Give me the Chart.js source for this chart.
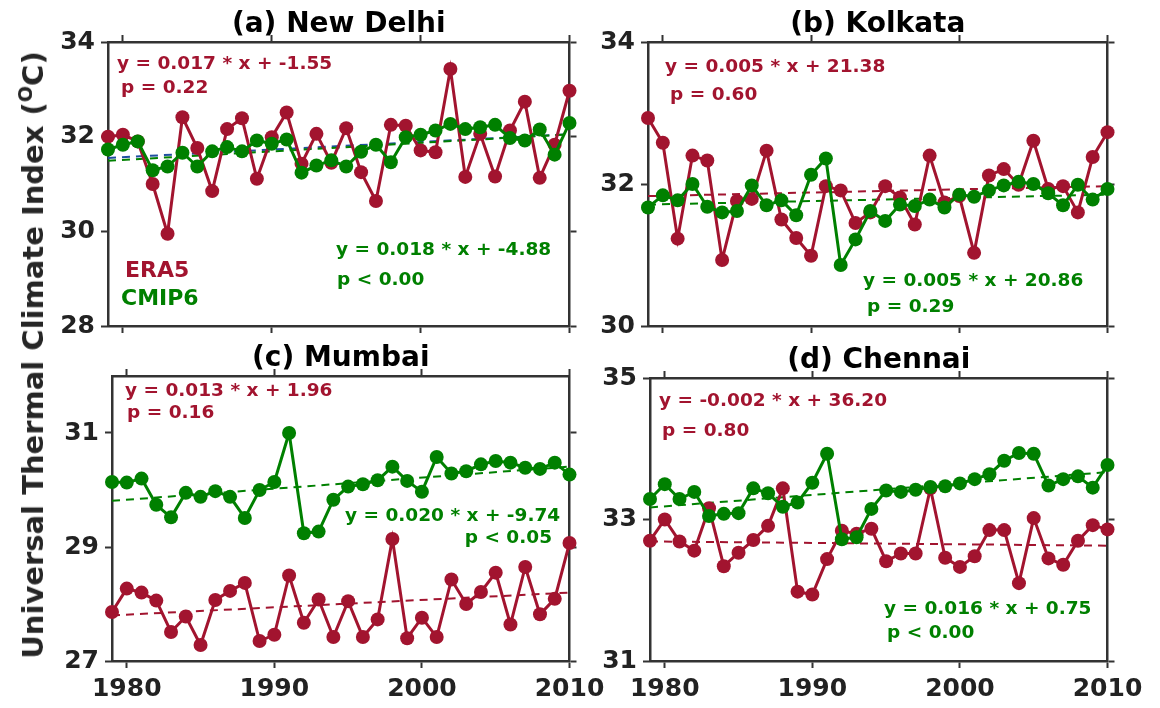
<!DOCTYPE html>
<html>
<head>
<meta charset="utf-8">
<script src="https://cdn.jsdelivr.net/npm/chart.js@4.4.1/dist/chart.umd.min.js"></script>
<style>
  html, body { margin: 0; padding: 0; background: #fff; }
  #wrap { position: relative; width: 1160px; height: 708px; overflow: hidden; }
  canvas { position: absolute; }
  #ytitle {
    position: absolute; left: 33px; top: 355px;
    transform: translate(-50%, -50%) rotate(-90deg);
    white-space: nowrap; font: bold 29px 'DejaVu Sans'; color: #262626;
  }
  #ytitle sup { font-size: 0.66em; vertical-align: 0.6em; line-height: 0; }
</style>
</head>
<body>
<div id="wrap">
  <canvas id="pa" width="620" height="354" style="left:0;top:0"></canvas>
  <canvas id="pb" width="580" height="354" style="left:580px;top:0"></canvas>
  <canvas id="pc" width="620" height="378" style="left:0;top:330px"></canvas>
  <canvas id="pd" width="580" height="378" style="left:580px;top:330px"></canvas>
  <div id="ytitle">Universal Thermal Climate Index (<sup>O</sup>C)</div>
</div>
<script>
'use strict';

const YEARS = [1979, 1980, 1981, 1982, 1983, 1984, 1985, 1986, 1987, 1988, 1989, 1990,
  1991, 1992, 1993, 1994, 1995, 1996, 1997, 1998, 1999, 2000, 2001, 2002, 2003, 2004,
  2005, 2006, 2007, 2008, 2009, 2010];
const X_TICKS = [1980, 1990, 2000, 2010];

// (a) New Delhi
const DELHI_ERA5 = [32.0, 32.04, 31.9, 31.0, 29.95, 32.41, 31.76, 30.85, 32.16, 32.39, 31.11, 31.99,
  32.51, 31.43, 32.06, 31.45, 32.18, 31.25, 30.64, 32.25, 32.23, 31.71, 31.67, 33.43, 31.15, 32.06,
  31.16, 32.13, 32.74, 31.13, 31.83, 32.97];
const DELHI_CMIP6 = [31.73, 31.83, 31.9, 31.29, 31.37, 31.66, 31.37, 31.69, 31.78, 31.69, 31.92, 31.85,
  31.94, 31.24, 31.39, 31.5, 31.37, 31.68, 31.83, 31.46, 31.99, 32.04, 32.13, 32.27, 32.16, 32.2,
  32.25, 31.97, 31.92, 32.15, 31.62, 32.29];
const DELHI_ERA5_TREND = [31.55, 32.05];
const DELHI_CMIP6_TREND = [31.49, 32.05];
const DELHI_Y_TICKS = [28, 30, 32, 34];

// (b) Kolkata
const KOLKATA_ERA5 = [32.93, 32.58, 31.23, 32.4, 32.33, 30.93, 31.76, 31.79, 32.47, 31.5, 31.24, 30.99,
  31.97, 31.91, 31.45, 31.6, 31.97, 31.81, 31.43, 32.4, 31.74, 31.83, 31.03, 32.12, 32.21, 31.99,
  32.61, 31.93, 31.97, 31.6, 32.38, 32.73];
const KOLKATA_CMIP6 = [31.67, 31.84, 31.77, 32.0, 31.68, 31.6, 31.62, 31.98, 31.7, 31.77, 31.56, 32.13,
  32.36, 30.86, 31.22, 31.62, 31.48, 31.71, 31.69, 31.78, 31.67, 31.85, 31.82, 31.91, 31.98, 32.03,
  32.0, 31.87, 31.7, 31.99, 31.78, 31.93];
const KOLKATA_ERA5_TREND = [31.83, 31.97];
const KOLKATA_CMIP6_TREND = [31.71, 31.85];
const KOLKATA_Y_TICKS = [30, 32, 34];

// (c) Mumbai
const MUMBAI_ERA5 = [27.86, 28.27, 28.2, 28.06, 27.51, 27.78, 27.28, 28.07, 28.23, 28.37, 27.35, 27.46,
  28.5, 27.67, 28.08, 27.42, 28.05, 27.42, 27.73, 29.14, 27.4, 27.76, 27.42, 28.43, 28.0, 28.21,
  28.55, 27.64, 28.65, 27.82, 28.09, 29.07];
const MUMBAI_CMIP6 = [30.14, 30.13, 30.2, 29.74, 29.52, 29.95, 29.88, 29.98, 29.88, 29.51, 30.0, 30.14,
  31.0, 29.24, 29.27, 29.83, 30.06, 30.1, 30.17, 30.41, 30.16, 29.97, 30.58, 30.29, 30.33, 30.45,
  30.51, 30.48, 30.39, 30.37, 30.48, 30.27];
const MUMBAI_ERA5_TREND = [27.8, 28.2];
const MUMBAI_CMIP6_TREND = [29.81, 30.41];
const MUMBAI_Y_TICKS = [27, 29, 31];

// (d) Chennai
const CHENNAI_ERA5 = [32.7, 33.0, 32.69, 32.56, 33.16, 32.34, 32.53, 32.71, 32.91, 33.44, 31.98, 31.94,
  32.44, 32.84, 32.8, 32.87, 32.41, 32.52, 32.52, 33.44, 32.46, 32.33, 32.48, 32.85, 32.85, 32.1,
  33.02, 32.45, 32.36, 32.7, 32.92, 32.86];
const CHENNAI_CMIP6 = [33.29, 33.5, 33.29, 33.39, 33.05, 33.08, 33.09, 33.44, 33.37, 33.18, 33.24, 33.52,
  33.93, 32.72, 32.75, 33.15, 33.41, 33.39, 33.42, 33.46, 33.47, 33.51, 33.57, 33.64, 33.83, 33.94,
  33.93, 33.48, 33.57, 33.61, 33.45, 33.77];
const CHENNAI_ERA5_TREND = [32.69, 32.63];
const CHENNAI_CMIP6_TREND = [33.17, 33.67];
const CHENNAI_Y_TICKS = [31, 33, 35];

const RED = '#A2142F';
const GREEN = '#008000';
const BLUE = '#1f4fa0';
const AXIS = '#333333';
const FONT = "'DejaVu Sans'";

// draws the panel title and the regression notes
const textPlugin = {
  id: 'panelText',
  afterDraw (chart, args, opts) {
    const ctx = chart.ctx;
    const area = chart.chartArea;
    ctx.save();
    ctx.fillStyle = '#000';
    ctx.font = 'bold 28px ' + FONT;
    ctx.textAlign = 'center';
    ctx.textBaseline = 'alphabetic';
    ctx.fillText(opts.title, (area.left + area.right) / 2, area.top - 10);
    opts.notes.forEach(n => {
      ctx.fillStyle = n.color;
      ctx.font = 'bold ' + (n.size || 18.5) + 'px ' + FONT;
      ctx.textAlign = n.align || 'left';
      ctx.fillText(n.text, n.x - opts.offset[0], n.y - opts.offset[1]);
    });
    ctx.restore();
  }
};

function series (vals, color, order) {
  return {
    data: YEARS.map((yr, i) => ({ x: yr, y: vals[i] })),
    borderColor: color, backgroundColor: color, borderWidth: 3,
    pointRadius: 7, pointHoverRadius: 7, pointBorderWidth: 0,
    pointBackgroundColor: color, clip: false, order: order
  };
}

function trend (ends, color, order) {
  return {
    data: [{ x: YEARS[0], y: ends[0] }, { x: YEARS[YEARS.length - 1], y: ends[1] }],
    borderColor: color, borderWidth: 2, borderDash: [8, 6],
    pointRadius: 0, clip: false, order: order
  };
}

function fixed (prop, size) {
  return function (s) {
    s[prop] = size;
    s.paddingLeft = 0; s.paddingRight = 0; s.paddingTop = 0; s.paddingBottom = 0;
  };
}

function axisBase () {
  return {
    grid: { drawOnChartArea: false, drawTicks: true, tickLength: 7, tickWidth: 2, tickColor: AXIS },
    border: { display: true, color: AXIS, width: 2.5 }
  };
}

function makePanel (id, p) {
  const tickFont = { family: FONT, size: 25, weight: 'bold' };
  new Chart(document.getElementById(id).getContext('2d'), {
    type: 'line',
    data: {
      datasets: [
        series(p.cmip6, GREEN, 0),
        series(p.era5, RED, 1),
        trend(p.cmip6Trend, GREEN, 2),
        trend(p.era5Trend, p.era5TrendColor || RED, 3)
      ]
    },
    options: {
      responsive: false,
      animation: false,
      events: [],
      layout: { padding: 0 },
      plugins: {
        legend: { display: false },
        tooltip: { enabled: false },
        panelText: { title: p.title, notes: p.notes, offset: p.offset }
      },
      scales: {
        x: Object.assign(axisBase(), {
          type: 'linear', position: 'bottom', min: 1979, max: 2010,
          afterBuildTicks: s => { s.ticks = X_TICKS.map(v => ({ value: v })); },
          afterFit: fixed('height', p.box[3]),
          ticks: {
            display: p.xLabels, font: tickFont, color: '#222', padding: 6,
            maxRotation: 0, autoSkip: false, callback: v => String(v)
          }
        }),
        x2: Object.assign(axisBase(), {
          type: 'linear', position: 'top', min: 1979, max: 2010,
          afterBuildTicks: s => { s.ticks = X_TICKS.map(v => ({ value: v })); },
          afterFit: fixed('height', p.box[1]),
          ticks: { display: false }
        }),
        y: Object.assign(axisBase(), {
          type: 'linear', position: 'left', min: p.yTicks[0], max: p.yMax,
          afterBuildTicks: s => { s.ticks = p.yTicks.map(v => ({ value: v })); },
          afterFit: fixed('width', p.box[0]),
          ticks: { font: tickFont, color: '#222', padding: 6, callback: v => String(v) }
        }),
        y2: Object.assign(axisBase(), {
          type: 'linear', position: 'right', min: p.yTicks[0], max: p.yMax,
          afterBuildTicks: s => { s.ticks = p.yTicks.map(v => ({ value: v })); },
          afterFit: fixed('width', p.box[2]),
          ticks: { display: false }
        })
      }
    },
    plugins: [textPlugin]
  });
}

makePanel('pa', {
  title: '(a) New Delhi', offset: [0, 0], box: [108, 42, 50.5, 28], xLabels: false,
  era5: DELHI_ERA5, cmip6: DELHI_CMIP6, era5Trend: DELHI_ERA5_TREND, cmip6Trend: DELHI_CMIP6_TREND,
  era5TrendColor: BLUE, yTicks: DELHI_Y_TICKS, yMax: 34,
  notes: [
    { text: 'y = 0.017 * x + -1.55', color: RED, x: 117, y: 69 },
    { text: 'p = 0.22', color: RED, x: 121, y: 93 },
    { text: 'ERA5', color: RED, x: 125, y: 277, size: 22 },
    { text: 'CMIP6', color: GREEN, x: 121, y: 305, size: 22 },
    { text: 'y = 0.018 * x + -4.88', color: GREEN, x: 336, y: 255 },
    { text: 'p < 0.00', color: GREEN, x: 337, y: 285 }
  ]
});

makePanel('pb', {
  title: '(b) Kolkata', offset: [580, 0], box: [68, 42, 52.5, 28], xLabels: false,
  era5: KOLKATA_ERA5, cmip6: KOLKATA_CMIP6, era5Trend: KOLKATA_ERA5_TREND, cmip6Trend: KOLKATA_CMIP6_TREND,
  yTicks: KOLKATA_Y_TICKS, yMax: 34,
  notes: [
    { text: 'y = 0.005 * x + 21.38', color: RED, x: 665, y: 72 },
    { text: 'p = 0.60', color: RED, x: 670, y: 100 },
    { text: 'y = 0.005 * x + 20.86', color: GREEN, x: 863, y: 286 },
    { text: 'p = 0.29', color: GREEN, x: 867, y: 312 }
  ]
});

makePanel('pc', {
  title: '(c) Mumbai', offset: [0, 330], box: [112, 46, 50.5, 47], xLabels: true,
  era5: MUMBAI_ERA5, cmip6: MUMBAI_CMIP6, era5Trend: MUMBAI_ERA5_TREND, cmip6Trend: MUMBAI_CMIP6_TREND,
  yTicks: MUMBAI_Y_TICKS, yMax: 32,
  notes: [
    { text: 'y = 0.013 * x + 1.96', color: RED, x: 125, y: 396 },
    { text: 'p = 0.16', color: RED, x: 127, y: 418 },
    { text: 'y = 0.020 * x + -9.74', color: GREEN, x: 345, y: 521 },
    { text: 'p < 0.05', color: GREEN, x: 552, y: 543, align: 'right' }
  ]
});

makePanel('pd', {
  title: '(d) Chennai', offset: [580, 330], box: [70, 48, 52.5, 47], xLabels: true,
  era5: CHENNAI_ERA5, cmip6: CHENNAI_CMIP6, era5Trend: CHENNAI_ERA5_TREND, cmip6Trend: CHENNAI_CMIP6_TREND,
  yTicks: CHENNAI_Y_TICKS, yMax: 35,
  notes: [
    { text: 'y = -0.002 * x + 36.20', color: RED, x: 659, y: 406 },
    { text: 'p = 0.80', color: RED, x: 662, y: 436 },
    { text: 'y = 0.016 * x + 0.75', color: GREEN, x: 884, y: 614 },
    { text: 'p < 0.00', color: GREEN, x: 887, y: 638 }
  ]
});
</script>
</body>
</html>
